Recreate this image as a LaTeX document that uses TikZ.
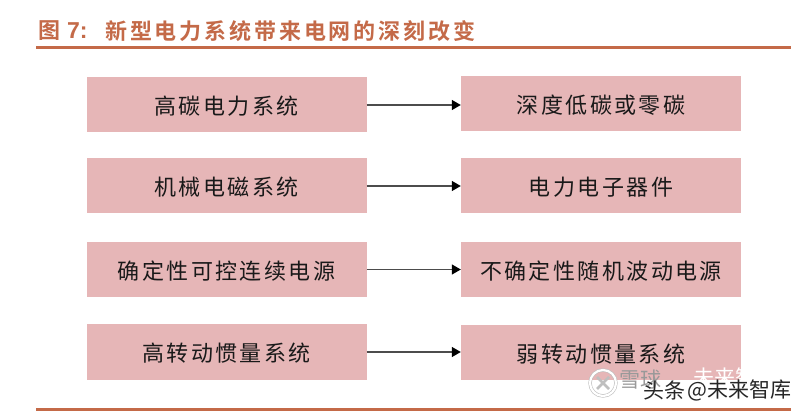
\documentclass[tikz,border=0pt]{standalone}
\usepackage{fontspec}
\setmainfont{Liberation Sans}
\newfontfamily\cjk[LetterSpace=11]{Noto Sans CJK SC}
\newfontfamily\cjkb[LetterSpace=13,BoldFont={Noto Sans CJK SC Bold}]{Noto Sans CJK SC}
\newfontfamily\cjkw{Noto Sans CJK SC}
\usetikzlibrary{arrows.meta}
\definecolor{rust}{HTML}{C46A48}
\definecolor{boxfill}{HTML}{E6B6B7}
\tikzset{
  box/.style={fill=boxfill,draw=none,minimum width=280pt,minimum height=55pt,inner sep=0pt,
    text height=22pt,text depth=2.2pt,
    font=\cjk\fontsize{22}{24}\selectfont,text=black!90},
  link/.style={draw=black!70,line width=1.3pt,-{Triangle[length=9pt,width=10pt,black]}},
  rule/.style={draw=rust,line width=2.5pt},
  ttl/.style={anchor=west,inner sep=0pt,text=rust},
  wm/.style={inner sep=0pt,anchor=west,font=\cjkw\fontsize{21}{23}\selectfont}
}
\begin{document}
\begin{tikzpicture}[x=1pt,y=-1pt]
\useasboundingbox (0,0) rectangle (800,411);
\fill[white] (0,0) rectangle (800,411);
\node[ttl,font=\cjkb\bfseries\fontsize{22}{24}\selectfont] (t1) at (38,31) {图};
\node[ttl,font=\bfseries\fontsize{23}{24}\selectfont] (t2) at (67,31) {7:};
\node[ttl,font=\cjkb\bfseries\fontsize{22}{24}\selectfont] (t3) at (105,31) {新型电力系统带来电网的深刻改变};
\coordinate (ta) at (36,47.5); \coordinate (tb) at (791,47.5);
\draw[rule] (ta) -- (tb);
\coordinate (ba) at (36,409.5); \coordinate (bb) at (791,409.5);
\draw[rule] (ba) -- (bb);

\node[box] (l1) at (226.5,105) {高碳电力系统};
\node[box] (l2) at (226.5,186) {机械电磁系统};
\node[box] (l3) at (226.5,269.5) {确定性可控连续电源};
\node[box] (l4) at (226.5,352) {高转动惯量系统};
\node[box] (r1) at (601,104) {深度低碳或零碳};
\node[box] (r2) at (601,186) {电力电子器件};
\node[box] (r3) at (601,269.5) {不确定性随机波动电源};
\node[box] (r4) at (601,352.5) {弱转动惯量系统};

\foreach \i in {1,2,3,4}{
  \draw[link] (l\i.east) -- (l\i.east -| r\i.west);
}

\draw[black!25,line width=3.4pt] (603,383) circle (13);
\draw[white,line width=2.2pt] (603,383) circle (13);
\draw[black!25,line width=2.5pt] (597,377) -- (609,389) (597,389) -- (609,377);
\node[wm,text=white] (w2) at (693,378) {未来智库};
\node[wm,text=black!40] (w1) at (619,380) {雪球};
\node[wm,text=black!85] (w3) at (643,390) {头条};
\node[wm,text=black!85] (w4) at (687,390) {@未来智库};
\end{tikzpicture}
\end{document}
